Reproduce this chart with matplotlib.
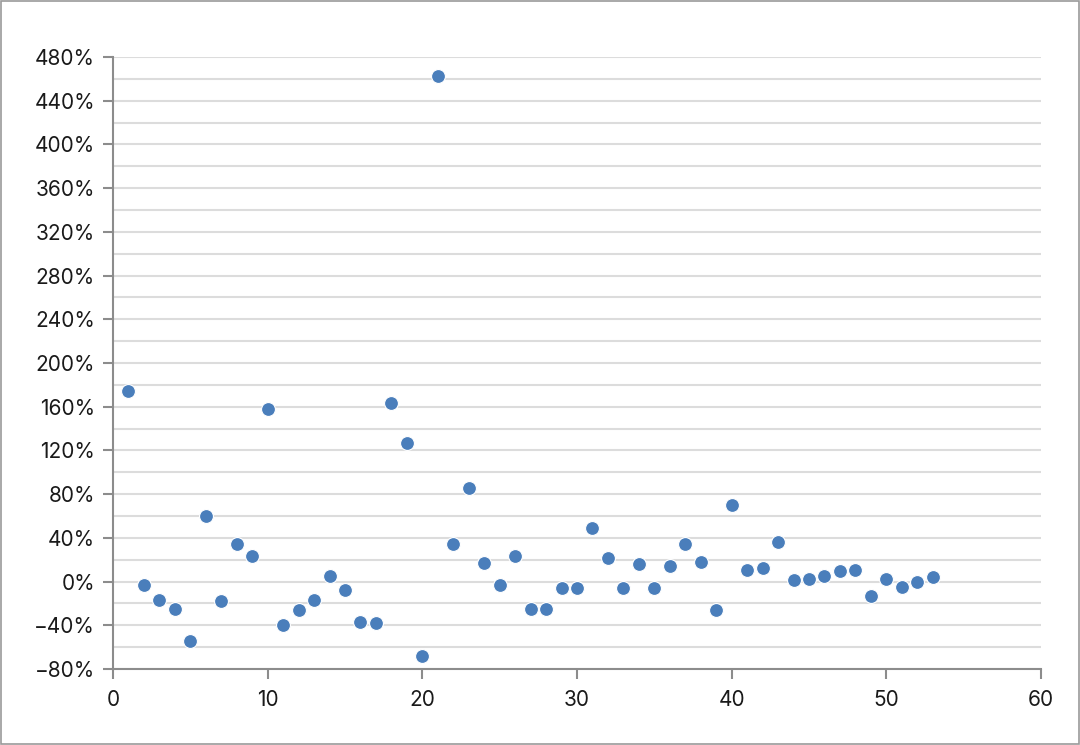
import matplotlib
matplotlib.use("Agg")
import matplotlib.pyplot as plt
from matplotlib.ticker import MultipleLocator, FuncFormatter

weeks = list(range(1, 54))
change_pct = [174, -3, -17, -25, -54, 60, -18, 34, 23, 158,
              -40, -26, -17, 5, -8, -37, -38, 163, 127, -68,
              463, 34, 86, 17, -3, 23, -25, -25, -6, -6,
              49, 22, -6, 16, -6, 14, 34, 18, -26, 70,
              11, 12, 36, 1, 2, 5, 10, 11, -13, 2,
              -5, 0, 4]

plt.rcParams['font.family'] = ['Inter', 'DejaVu Sans']

fig = plt.figure(figsize=(10.8, 7.45), dpi=100)
ax = fig.add_axes([113 / 1080, 1 - 669 / 745, (1041 - 113) / 1080, (669 - 57) / 745])

ax.scatter(weeks, change_pct, s=100, color="#4a7ebb", edgecolor="white", linewidth=0.8, zorder=3)

ax.set_xlim(0, 60)
ax.set_ylim(-80, 480)
ax.xaxis.set_major_locator(MultipleLocator(10))
ax.yaxis.set_major_locator(MultipleLocator(40))
ax.yaxis.set_minor_locator(MultipleLocator(20))
ax.yaxis.set_major_formatter(FuncFormatter(lambda v, p: f"{int(v)}%".replace("-", "\u2212")))

ax.grid(axis="y", which="both", color="#dcdcdc", linewidth=1.5, zorder=0)
ax.set_axisbelow(True)
for s in ["top", "right"]:
    ax.spines[s].set_visible(False)
for s in ["left", "bottom"]:
    ax.spines[s].set_color("#8c8c8c")
    ax.spines[s].set_linewidth(1.5)
ax.tick_params(axis="both", which="major", length=7, width=1.5, color="#8c8c8c",
               labelsize=15, labelcolor="#1a1a1a")
ax.tick_params(axis="y", which="major", pad=6)
ax.tick_params(axis="x", which="major", pad=8)
ax.tick_params(axis="y", which="minor", length=0)

# thin gray frame around the whole picture
fig.patches.append(plt.Rectangle((0.0005, 0.0007), 0.999, 0.9986, transform=fig.transFigure,
                                 fill=False, edgecolor="#9a9a9a", linewidth=1.2))

fig.savefig("out.png", dpi=100)
